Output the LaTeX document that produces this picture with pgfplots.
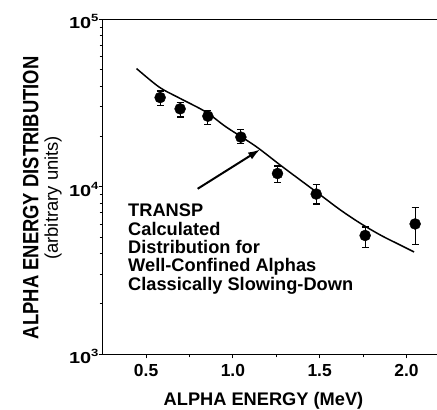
\documentclass[border=0pt]{standalone}
\usepackage{fontspec}
\setmainfont{Liberation Sans}
\usepackage{graphicx}
\usepackage{pgfplots}
\pgfplotsset{compat=1.18}
\usetikzlibrary{arrows.meta}
\newcommand{\tl}[1]{\fontsize{16}{16}\selectfont\bfseries 10\raisebox{6.8bp}{\fontsize{10.5}{10.5}\selectfont\bfseries #1}}
\pgfplotstableread{
x y ep em
0.581 34100 3200 3400
0.696 29200 2800 3100
0.856 26400 2200 2900
1.046 19800 2100 1700
1.257 12000 1300 1400
1.480 9050 1250 1150
1.762 5120 630 780
2.050 6000 1520 1480
}\datapts
\pgfplotstableread{
x y
0.445 50800
0.575 39400
0.691 33900
0.844 28000
0.960 22800
1.130 17500
1.276 13400
1.392 10900
1.507 8890
1.622 7240
1.737 6030
1.853 5130
1.968 4470
2.044 4080
}\curve
\begin{document}
\begin{tikzpicture}
\begin{axis}[
  at={(0,0)}, anchor=south west,
  scale only axis, width=335bp, height=335bp,
  xmin=0.25, xmax=2.18, ymode=log, ymin=1000, ymax=100000,
  axis lines*=left,
  axis line style={line width=1bp},
  tick align=outside,
  xtick={0.5,1,1.5,2}, xticklabels={0.5,1.0,1.5,2.0},
  minor xtick={0.75,1.25,1.75},
  ytick={1000,10000,100000},
  yticklabels={{\tl{3}},{\tl{4}},{\tl{5}}},
  minor ytick={2000,3000,4000,5000,6000,7000,8000,9000,20000,30000,40000,50000,60000,70000,80000,90000},
  major tick length=4bp, minor tick length=3bp,
  every tick/.style={black, line width=0.8bp},
  xticklabel style={font=\fontsize{17.5}{17.5}\selectfont\bfseries, inner sep=0pt, anchor=north, yshift=-6bp},
  yticklabel style={inner sep=0pt, anchor=east, yshift=-2.5bp, xscale=1.25},
  xlabel={ALPHA ENERGY (MeV)},
  xlabel style={at={(axis description cs:0.48,0)}, anchor=base, yshift=-51.5bp, font=\fontsize{18.3}{18.3}\selectfont\bfseries, inner sep=0pt},
  ylabel={\scalebox{1}[1.2]{ALPHA ENERGY DISTRIBUTION}\\\mdseries (arbitrary units)},
  ylabel style={at={(axis description cs:-0.18,0.467)}, anchor=center, align=center, font=\fontsize{18.5}{19.5}\selectfont\bfseries, inner sep=0pt},
  clip=false,
]
\draw[line width=1bp] (rel axis cs:0,1) -- (rel axis cs:1,1);
\addplot[black, line width=1.5bp, smooth] table[x=x,y=y] {\curve};
\addplot[only marks, mark=*, mark size=5.5bp, black,
  error bars/.cd, y dir=both, y explicit,
  error bar style={line width=1.1bp, black},
  error mark options={rotate=90, mark size=3.5bp, line width=1.1bp, black}]
  table[x=x, y=y, y error plus=ep, y error minus=em] {\datapts};
\draw[line width=2bp, -{Latex[length=12bp,width=8bp]}] (axis cs:0.797,9730) -- (axis cs:1.157,16700);
\node[anchor=north west, inner sep=0pt, align=left, font=\fontsize{18.3}{18.4}\selectfont\bfseries] at (axis cs:0.396,7890) {TRANSP\\Calculated\\Distribution for\\Well-Confined Alphas\\Classically Slowing-Down};
\end{axis}
\pgfresetboundingbox
\path[use as bounding box] (-102.7bp,-55.7bp) rectangle (334.3bp,354.3bp);
\end{tikzpicture}
\end{document}
